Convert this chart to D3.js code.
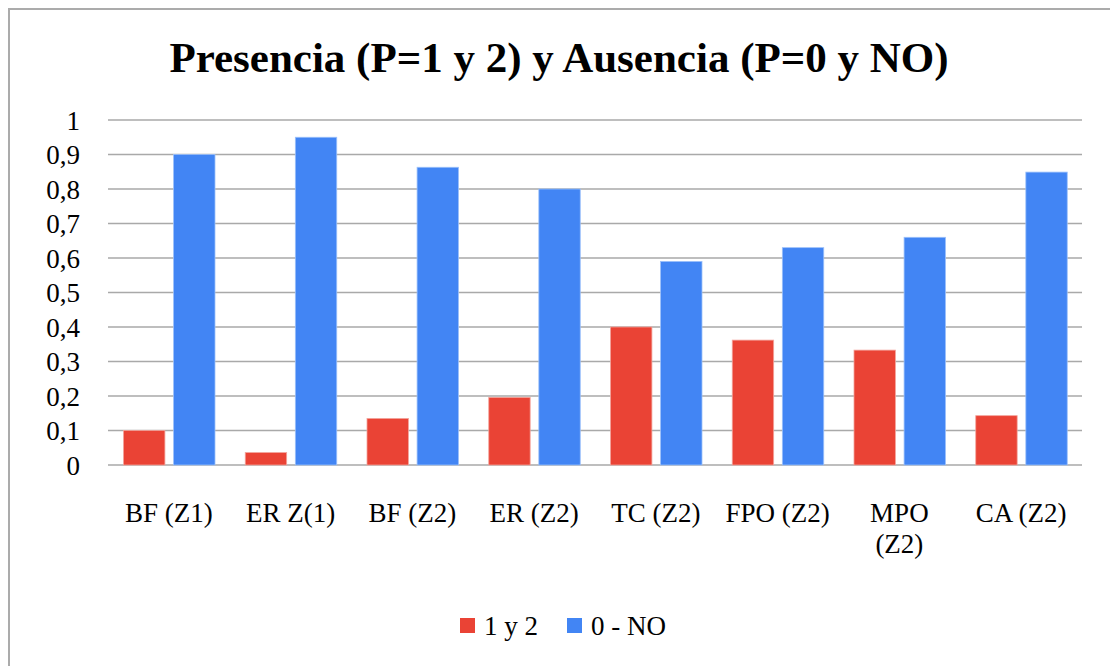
<!DOCTYPE html>
<html>
<head>
<meta charset="utf-8">
<script src="https://cdn.jsdelivr.net/npm/d3@7"></script>
<style>
  html, body { margin: 0; padding: 0; background: #fff; }
  svg { display: block; }
  svg text { font-family: "Liberation Serif", Tinos, "Times New Roman", Times, "DejaVu Serif", serif; }
</style>
</head>
<body>
<svg id="chart" width="1110" height="666"></svg>
<script>
// Categories along the x axis (a "\n" splits a label into two lines)
const categories = ["BF (Z1)", "ER Z(1)", "BF (Z2)", "ER (Z2)", "TC (Z2)", "FPO (Z2)", "MPO\n(Z2)", "CA (Z2)"];
const seriesNames = ["1 y 2", "0 - NO"];
// Proportion of presence (P = 1 and 2) per site
const presence = [0.10, 0.036, 0.135, 0.196, 0.40, 0.362, 0.333, 0.143];
// Proportion of absence (P = 0 and NO) per site
const absence = [0.90, 0.95, 0.863, 0.80, 0.59, 0.63, 0.66, 0.849];
const yTicks = [0, 0.1, 0.2, 0.3, 0.4, 0.5, 0.6, 0.7, 0.8, 0.9, 1];
const colors = ["#EA4335", "#4285F4"];

const svg = d3.select("#chart");

// Outer chart frame
svg.append("rect")
  .attr("x", 9).attr("y", 9)
  .attr("width", 1120).attr("height", 680)
  .attr("fill", "#fff")
  .attr("stroke", "#ababab").attr("stroke-width", 2);

// Title
svg.append("text")
  .attr("x", 559).attr("y", 72)
  .attr("text-anchor", "middle")
  .attr("font-weight", "bold")
  .attr("font-size", 43)
  .attr("fill", "#000")
  .text("Presencia (P=1 y 2) y Ausencia (P=0 y NO)");

const plot = { left: 108, right: 1082, top: 120, bottom: 465 };

const x0 = d3.scaleBand().domain(categories).range([plot.left, plot.right]).padding(0);
const x1 = d3.scaleBand().domain(seriesNames).range([15.5, 107]).paddingInner(0.173);
const y = d3.scaleLinear().domain([0, 1]).range([plot.bottom, plot.top]);

// Horizontal gridlines
svg.append("g")
  .selectAll("line")
  .data(yTicks)
  .join("line")
  .attr("x1", plot.left).attr("x2", plot.right)
  .attr("y1", d => y(d)).attr("y2", d => y(d))
  .attr("stroke", "#a9a9a9").attr("stroke-width", 1.6);

// Y axis labels
const fmt = d => d === 0 || d === 1 ? String(d) : String(d).replace(".", ",");
const yAxis = d3.axisLeft(y).tickValues(yTicks).tickFormat(fmt).tickSize(0).tickPadding(0);
const yg = svg.append("g").attr("transform", `translate(${80},0)`).call(yAxis);
yg.attr("font-family", null);
yg.select(".domain").remove();
yg.selectAll("text")
  .attr("font-size", 27).attr("fill", "#000")
  .attr("dy", "0.35em");

// Bars
const rows = categories.map((c, i) => ({ cat: c, values: [presence[i], absence[i]] }));
const groups = svg.append("g")
  .selectAll("g")
  .data(rows)
  .join("g")
  .attr("transform", d => `translate(${x0(d.cat)},0)`);

groups.selectAll("rect")
  .data(d => d.values.map((v, k) => ({ name: seriesNames[k], v, k })))
  .join("rect")
  .attr("x", d => x1(d.name))
  .attr("width", x1.bandwidth())
  .attr("y", d => y(d.v))
  .attr("height", d => y(0) - y(d.v))
  .attr("fill", d => colors[d.k])
  .attr("stroke", d => d.k === 0 ? "#f3a49c" : "#9cc0fa")
  .attr("stroke-width", 0.8);

// X axis labels
const xg = svg.append("g");
categories.forEach(c => {
  const lines = c.split("\n");
  const t = xg.append("text")
    .attr("x", x0(c) + x0.bandwidth() / 2)
    .attr("y", 522)
    .attr("text-anchor", "middle")
    .attr("font-size", 27).attr("fill", "#000");
  lines.forEach((ln, i) => {
    t.append("tspan")
      .attr("x", x0(c) + x0.bandwidth() / 2)
      .attr("dy", i === 0 ? 0 : 31)
      .text(ln);
  });
});

// Legend
const legend = svg.append("g");
const legendItems = [
  { name: seriesNames[0], color: colors[0], x: 460 },
  { name: seriesNames[1], color: colors[1], x: 567 }
];
legendItems.forEach(it => {
  legend.append("rect")
    .attr("x", it.x).attr("y", 618)
    .attr("width", 15).attr("height", 15)
    .attr("fill", it.color);
  legend.append("text")
    .attr("x", it.x + 24).attr("y", 635)
    .attr("font-size", 27).attr("fill", "#000")
    .text(it.name);
});
</script>
</body>
</html>
